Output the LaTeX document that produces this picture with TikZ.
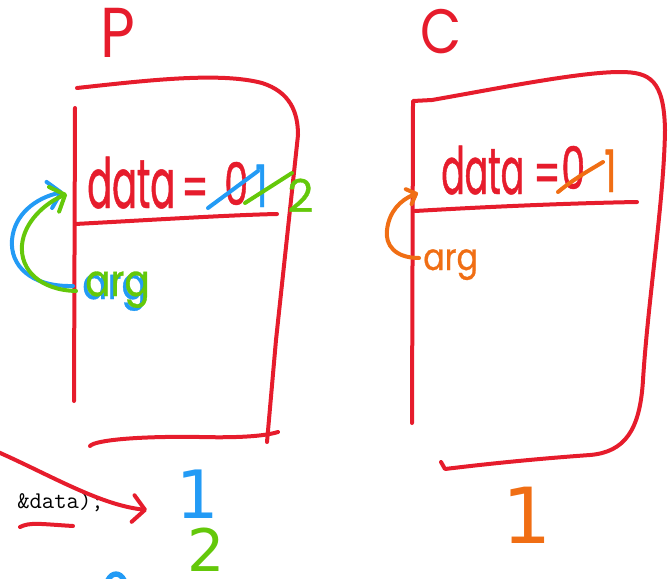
\documentclass[tikz,border=0pt]{standalone}
\usepackage{fontspec}
\usepackage{graphicx}
\usetikzlibrary{arrows.meta}
\newfontfamily\handA[FakeStretch=0.53,FakeBold=0.7]{Poppins}
\newfontfamily\handD[FakeStretch=0.65,FakeBold=0.7]{Poppins}
\newfontfamily\handB[FakeStretch=0.85,FakeBold=0.7]{Poppins}
\newfontfamily\handE[FakeStretch=0.85]{Poppins}
\newfontfamily\handC[FakeBold=0.7]{Poppins}
\newfontfamily\digitf{DejaVu Sans}
\definecolor{pen}{RGB}{230,28,44}
\definecolor{bpen}{RGB}{35,155,245}
\definecolor{gpen}{RGB}{100,200,10}
\definecolor{orpen}{RGB}{240,110,20}
\tikzset{
  stroke/.style={line width=3pt, line cap=round, line join=round},
  box/.style={stroke, draw=pen},
  txt/.style={inner sep=0pt, anchor=base west},
  ctxt/.style={inner sep=0pt, anchor=base},
  bigtip/.style={-{Straight Barb[length=9pt,width=20pt,round]}},
  smalltip/.style={-{Straight Barb[length=6pt,width=12pt,round]}},
}
\begin{document}
\begin{tikzpicture}[x=0.75pt,y=-0.75pt]
\useasboundingbox (0,0) rectangle (670,578);

% ---------- P frame ----------
\node[ctxt, text=pen, font=\handE\fontsize{53}{56}\selectfont] (Plab) at (118,57) {P};
\draw[box] (77,88) .. controls (150,80) and (220,72) .. (262,83) .. controls (290,92) and (298,112) .. (298,135) -- (276,340) -- (267,442);
\draw[box] (75,108) -- (74,401);
\draw[box] (90,446) .. controls (95,440) and (140,436) .. (200,437) .. controls (240,438) and (265,436) .. (278,432);
\draw[box] (75,224) .. controls (150,220) and (230,215) .. (277,214);

\node[txt, text=pen, font=\handA\fontsize{52}{56}\selectfont] (Pdata) at (87,208) {data};
\node[txt, text=pen, font=\handD\fontsize{44}{48}\selectfont] (Peq) at (181,208) {=};
\node[txt, text=pen, font=\handD\fontsize{44}{48}\selectfont] (Pzero) at (224,205) {0};
\draw[stroke, draw=bpen] (208,208) -- (258,171);
\node[txt, text=bpen, font=\handD\fontsize{44}{48}\selectfont] (Pone) at (255,207) {1};
\draw[stroke, draw=gpen] (245,203) -- (292,173);
\node[txt, text=gpen, font=\handC\fontsize{34}{38}\selectfont] (Ptwo) at (287,212) {2};

\node[txt, text=bpen, font=\handB\fontsize{33}{36}\selectfont] (Pargb) at (82,299) {arg};
\node[txt, text=gpen, font=\handB\fontsize{33}{36}\selectfont] (Parg) at (85,296) {arg};

\coordinate (pbs) at (73,286);
\coordinate (pbt) at (63,192);
\coordinate (pgs) at (76,291);
\coordinate (pgt) at (67,194);
\draw[stroke, draw=bpen, bigtip] (pbs) .. controls (30,287) and (10,265) .. (12,240) .. controls (14,215) and (35,198) .. (pbt);
\draw[stroke, draw=gpen, bigtip] (pgs) .. controls (40,290) and (20,270) .. (22,245) .. controls (24,222) and (45,203) .. (pgt);

% ---------- C frame ----------
\node[ctxt, text=pen, font=\handE\fontsize{47}{50}\selectfont] (Clab) at (441,53) {C};
\draw[box] (413,104) -- (413,101) -- (432,100) .. controls (500,88) and (580,72) .. (620,72) .. controls (650,72) and (664,80) .. (665,130) .. controls (664,200) and (648,300) .. (643,380) .. controls (640,430) and (625,452) .. (590,455) .. controls (520,460) and (470,466) .. (445,469) -- (441,462);
\draw[box] (413,104) -- (412,423);
\draw[box] (415,211) .. controls (500,206) and (580,203) .. (637,202);

\node[txt, text=pen, font=\handA\fontsize{49}{52}\selectfont] (Cdata) at (441,194) {data};
\node[txt, text=pen, font=\handD\fontsize{44}{48}\selectfont] (Ceq) at (533,194) {=};
\node[txt, text=pen, font=\handD\fontsize{44}{48}\selectfont] (Czero) at (561,189) {0};
\draw[stroke, draw=orpen] (558,192) .. controls (575,178) and (590,170) .. (603,162);
\node[txt, text=orpen, font=\handD\fontsize{44}{48}\selectfont] (Cone) at (604,192) {1};

\node[txt, text=orpen, font=\handB\fontsize{28}{30}\selectfont] (Carg) at (423,270) {arg};
\coordinate (ocs) at (419,258);
\coordinate (oct) at (418,193);
\draw[stroke, draw=orpen, smalltip] (ocs) .. controls (395,258) and (385,245) .. (387,230) .. controls (389,212) and (400,200) .. (oct);

% ---------- bottom ----------
\node[txt, font=\ttfamily\fontsize{18}{20}\selectfont] (code) at (17,508) {\&data);};
\draw[box] (20,527) .. controls (30,522) and (40,524) .. (73,526);
\coordinate (rs) at (-2,452);
\coordinate (rt) at (147,510);
\draw[box, bigtip] (rs) .. controls (50,475) and (100,505) .. (rt);

\node[ctxt, text=bpen, font=\digitf\fontsize{50}{54}\selectfont] (bone) at (198,518) {1};
\node[ctxt, text=gpen, font=\digitf\fontsize{44}{48}\selectfont] (gtwo) at (206,571) {2};
\node[ctxt, text=orpen, font=\digitf\fontsize{58}{62}\selectfont] (oone) at (527,543) {1};
\draw[stroke, draw=bpen, line width=4pt] (108,580) .. controls (112,572) and (120,572) .. (124,580);
\end{tikzpicture}
\end{document}
